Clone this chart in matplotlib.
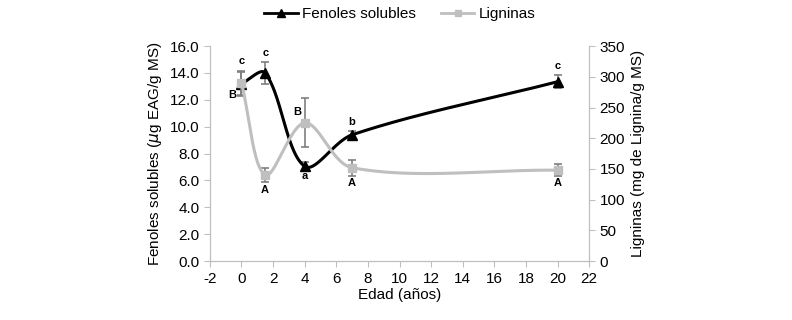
import numpy as np
import matplotlib
matplotlib.use("Agg")
import matplotlib.pyplot as plt
from matplotlib.lines import Line2D

plt.rcParams['font.family'] = ['Liberation Sans', 'DejaVu Sans']

# Data
edad = [0, 1.5, 4, 7, 20]
fenoles = [13.2, 14.0, 7.05, 9.4, 13.35]
fenoles_err = [0.9, 0.85, 0.3, 0.25, 0.5]
fenoles_lab = ['c', 'c', 'a', 'b', 'c']
ligninas = [290, 140, 225, 152, 148]
ligninas_err = [20, 11, 40, 13, 10]
ligninas_lab = ['B', 'A', 'B', 'A', 'A']

xticks = list(range(-2, 23, 2))
yticks_left = [0, 2, 4, 6, 8, 10, 12, 14, 16]
yticks_right = [0, 50, 100, 150, 200, 250, 300, 350]

FIG_W, FIG_H = 792, 320
AX_RECT = [0.265, 0.184, 0.479, 0.672]
XLIM = (-2, 22)


def smooth(x, y, sx, sy, n=80):
    # Bezier smoothing (Excel-like) computed in pixel space, with
    # control point lengths weighted by neighbouring segment lengths.
    P = np.column_stack([np.asarray(x, float) * sx, np.asarray(y, float) * sy])
    m = len(P)
    out = []
    for i in range(m - 1):
        p0 = P[i - 1] if i > 0 else P[i]
        p1 = P[i]
        p2 = P[i + 1]
        p3 = P[i + 2] if i + 2 < m else P[i + 1]
        d01 = np.linalg.norm(p1 - p0)
        d12 = np.linalg.norm(p2 - p1)
        d23 = np.linalg.norm(p3 - p2)
        f1 = d12 / (d01 + d12) / 3.0 if d01 + d12 > 0 else 0
        f2 = d12 / (d12 + d23) / 3.0 if d12 + d23 > 0 else 0
        c1 = p1 + (p2 - p0) * f1
        c2 = p2 - (p3 - p1) * f2
        t = np.linspace(0, 1, n)[:, None]
        b = ((1 - t) ** 3) * p1 + 3 * ((1 - t) ** 2) * t * c1 + 3 * (1 - t) * t ** 2 * c2 + t ** 3 * p2
        out.append(b if i == 0 else b[1:])
    B = np.vstack(out)
    return B[:, 0] / sx, B[:, 1] / sy


fig = plt.figure(figsize=(FIG_W / 100, FIG_H / 100), dpi=100)
ax = fig.add_axes(AX_RECT)
ax2 = ax.twinx()

px_x = AX_RECT[2] * FIG_W / (XLIM[1] - XLIM[0])
px_yl = AX_RECT[3] * FIG_H / 16.0
px_yr = AX_RECT[3] * FIG_H / 350.0

spine_c = '#BFBFBF'
err_c = '#7F7F7F'
gray = '#BFBFBF'

# Fenoles
sx, sy = smooth(edad, fenoles, px_x, px_yl)
ax.plot(sx, sy, color='black', lw=2.2, zorder=3)
ax.errorbar(edad, fenoles, yerr=fenoles_err, fmt='none', ecolor=err_c, elinewidth=1.2, capsize=3, capthick=1.2, zorder=2)
ax.plot(edad, fenoles, ls='none', marker='^', ms=7, color='black', zorder=4)
foffs = [23, 20, -10, 13, 16]
for xi, yi, lab, o in zip(edad, fenoles, fenoles_lab, foffs):
    ax.annotate(lab, (xi, yi), xytext=(0, o), textcoords='offset pixels',
                ha='center', va='center', fontsize=8, fontweight='bold')

# Ligninas
lx, ly = smooth(edad, ligninas, px_x, px_yr)
ax2.plot(lx, ly, color=gray, lw=2.2, zorder=3)
ax2.errorbar(edad, ligninas, yerr=ligninas_err, fmt='none', ecolor=err_c, elinewidth=1.2, capsize=3, capthick=1.2, zorder=2)
ax2.plot(edad, ligninas, ls='none', marker='s', ms=6, color=gray, zorder=4)
loffs = [(-9, -12), (0, -15), (-7, 11), (0, -15), (0, -13)]
for xi, yi, lab, o in zip(edad, ligninas, ligninas_lab, loffs):
    ax2.annotate(lab, (xi, yi), xytext=o, textcoords='offset pixels',
                 ha='center', va='center', fontsize=8, fontweight='bold')

ax.set_xlim(*XLIM)
ax.set_ylim(0, 16)
ax2.set_ylim(0, 350)
ax.set_xticks(xticks)
ax.set_xticklabels([str(v) for v in xticks])
ax.set_yticks(yticks_left)
ax.set_yticklabels([f'{v:.1f}' for v in yticks_left])
ax2.set_yticks(yticks_right)
ax2.set_yticklabels([str(v) for v in yticks_right])

for a in (ax, ax2):
    for s in a.spines.values():
        s.set_color(spine_c)
    a.spines['top'].set_visible(False)
    a.tick_params(colors=spine_c, labelcolor='black', labelsize=11, length=4, width=0.8)
    a.patch.set_visible(False)

ax.set_xlabel('Edad (años)', fontsize=11, labelpad=2)
ax.set_ylabel('Fenoles solubles ($\\mu$g EAG/g MS)', fontsize=11, labelpad=4)
ax2.set_ylabel('Ligninas (mg de Lignina/g MS)', fontsize=11, labelpad=4)

handles = [Line2D([0], [0], color='black', lw=2, marker='^', ms=6),
           Line2D([0], [0], color=gray, lw=2, marker='s', ms=5)]
fig.legend(handles, ['Fenoles solubles', 'Ligninas'], loc='center', bbox_to_anchor=(0.505, 0.955),
           ncol=2, frameon=False, fontsize=11, handlelength=2.2, columnspacing=1.6, handletextpad=0.3)

fig.savefig('out.png', dpi=100)
